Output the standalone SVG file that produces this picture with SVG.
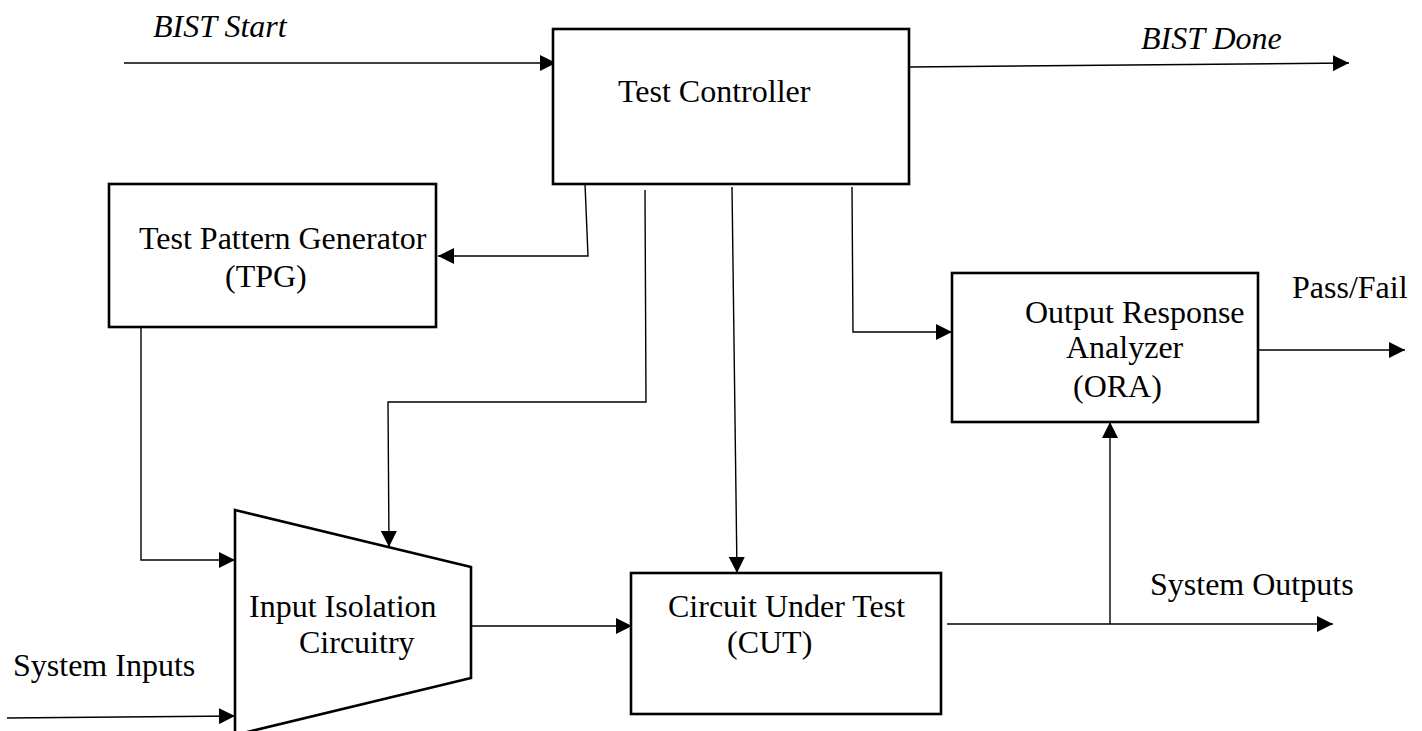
<svg xmlns="http://www.w3.org/2000/svg" width="1422" height="731" viewBox="0 0 1422 731">
  <style>
    .box { fill: #ffffff; stroke: #000000; stroke-width: 2.6; }
    .wire { fill: none; stroke: #000000; stroke-width: 1.4; }
    .arrow { marker-end: url(#head); }
    text { font-family: "Liberation Serif", "Times New Roman", serif; font-size: 32px; fill: #000000; }
    .sig { font-style: italic; }
  </style>
  <defs>
    <marker id="head" markerUnits="userSpaceOnUse" markerWidth="17" markerHeight="16" refX="16" refY="8" orient="auto">
      <path d="M0,0 L16,8 L0,16 Z" fill="#000000"/>
    </marker>
  </defs>

  <rect width="1422" height="731" fill="#ffffff"/>

  <!-- connectors -->
  <g id="connectors">
    <line class="wire arrow" x1="124" y1="63" x2="556" y2="63"/>
    <line class="wire arrow" x1="909" y1="67" x2="1349" y2="63"/>
    <polyline class="wire arrow" points="585,184 588,256 438,256"/>
    <polyline class="wire arrow" points="645,190 646,402 388,402 389,547"/>
    <line class="wire arrow" x1="732" y1="187" x2="737" y2="573"/>
    <polyline class="wire arrow" points="852,187 853,332 952,332"/>
    <polyline class="wire arrow" points="141,327 141,560 235,560"/>
    <line class="wire arrow" x1="7" y1="718" x2="235" y2="716"/>
    <line class="wire arrow" x1="471" y1="626" x2="632" y2="626"/>
    <line class="wire arrow" x1="947" y1="624" x2="1333" y2="624"/>
    <line class="wire arrow" x1="1110" y1="624" x2="1110" y2="422"/>
    <line class="wire arrow" x1="1258" y1="350" x2="1405" y2="350"/>
  </g>

  <!-- blocks -->
  <g id="test-controller">
    <rect class="box" x="553" y="29" width="356" height="155"/>
    <text x="618" y="102">Test Controller</text>
  </g>

  <g id="tpg">
    <rect class="box" x="109" y="184" width="327" height="143"/>
    <text x="139" y="249">Test Pattern Generator</text>
    <text x="225" y="287">(TPG)</text>
  </g>

  <g id="input-isolation">
    <polygon class="box" points="235,510 471,567 471,678 235,735"/>
    <text x="249" y="617">Input Isolation</text>
    <text x="299" y="653">Circuitry</text>
  </g>

  <g id="cut">
    <rect class="box" x="631" y="573" width="310" height="141"/>
    <text x="668" y="617">Circuit Under Test</text>
    <text x="727" y="653">(CUT)</text>
  </g>

  <g id="ora">
    <rect class="box" x="952" y="273" width="306" height="149"/>
    <text x="1025" y="323">Output Response</text>
    <text x="1066" y="358">Analyzer</text>
    <text x="1073" y="397">(ORA)</text>
  </g>

  <!-- signal labels -->
  <g id="labels">
    <text class="sig" x="153" y="37">BIST Start</text>
    <text class="sig" x="1141" y="49">BIST Done</text>
    <text x="1292" y="298">Pass/Fail</text>
    <text x="1150" y="595">System Outputs</text>
    <text x="13" y="676">System Inputs</text>
  </g>
</svg>
